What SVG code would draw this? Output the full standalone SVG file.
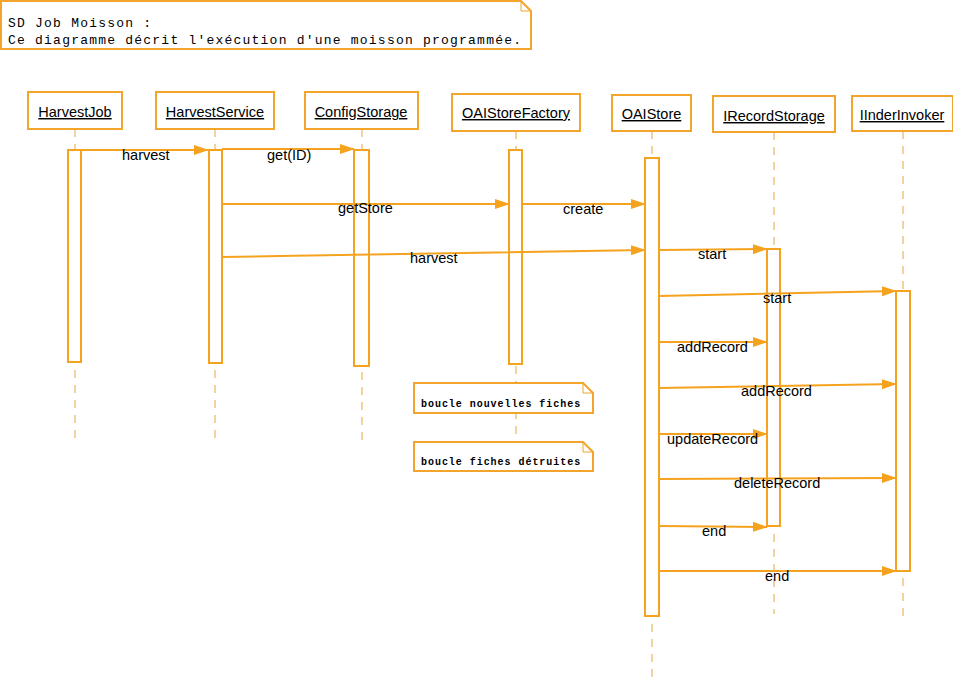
<svg xmlns="http://www.w3.org/2000/svg" width="953" height="680" viewBox="0 0 953 680">
<defs>
<marker id="ah" markerWidth="15" markerHeight="11" refX="14" refY="5.5" orient="auto" markerUnits="userSpaceOnUse">
<path d="M0,0.5 L15,5.5 L0,10.5 Z" fill="#F5A31F"/>
</marker>
<style>
.box{fill:#fff;stroke:#F2A52A;stroke-width:2}
.act{fill:#fff;stroke:#F5A31F;stroke-width:2}
.life{stroke:#E3A545;stroke-width:1;stroke-dasharray:8,7;fill:none}
.msg{stroke:#F5A31F;stroke-width:2;fill:none;marker-end:url(#ah)}
.name{font-family:"Liberation Sans",Arial,sans-serif;font-size:14.5px;fill:#000;text-anchor:middle;text-decoration:underline}
.lbl{font-family:"Liberation Sans",Arial,sans-serif;font-size:14.5px;fill:#000}
.note{fill:#fff;stroke:#F2A52A;stroke-width:2}
.mono{font-family:"Liberation Mono","Courier New",monospace;fill:#000}
</style>
</defs>
<rect width="953" height="680" fill="#fff"/>

<g id="title-note">
<path class="note" d="M1,1 H521 L531,11 V49 H1 Z"/>
<path d="M521,1 V11 H531" fill="none" stroke="#F2A52A" stroke-width="1"/>
<text class="mono" x="8" y="27" font-size="13" letter-spacing="1.22">SD Job Moisson :</text>
<text class="mono" x="8" y="44" font-size="13" letter-spacing="1.22">Ce diagramme décrit l'exécution d'une moisson programmée.</text>
</g>

<g id="HarvestJob">
<line class="life" x1="75" y1="129" x2="75" y2="150"/>
<line class="life" x1="75" y1="370" x2="75" y2="445"/>
<rect class="box" x="28" y="92" width="94" height="37"/>
<text class="name" x="75" y="117">HarvestJob</text>
<rect class="act" x="68" y="150" width="13" height="212"/>
</g>

<g id="HarvestService">
<line class="life" x1="215" y1="129" x2="215" y2="150"/>
<line class="life" x1="215" y1="370" x2="215" y2="445"/>
<rect class="box" x="156" y="92" width="118" height="37"/>
<text class="name" x="215" y="117">HarvestService</text>
<rect class="act" x="209" y="150" width="13" height="213"/>
</g>

<g id="ConfigStorage">
<line class="life" x1="362" y1="129" x2="362" y2="150"/>
<line class="life" x1="362" y1="372" x2="362" y2="440"/>
<rect class="box" x="305" y="92" width="113" height="37"/>
<text class="name" x="361" y="117">ConfigStorage</text>
<rect class="act" x="354" y="150" width="15" height="216"/>
</g>

<g id="OAIStoreFactory">
<line class="life" x1="516" y1="131" x2="516" y2="150"/>
<line class="life" x1="516" y1="366" x2="516" y2="442"/>
<rect class="box" x="452" y="94" width="128" height="37"/>
<text class="name" x="516" y="118">OAIStoreFactory</text>
<rect class="act" x="509" y="150" width="13" height="214"/>
</g>

<g id="OAIStore">
<line class="life" x1="652" y1="131" x2="652" y2="158"/>
<line class="life" x1="652" y1="624" x2="652" y2="680"/>
<rect class="box" x="612" y="95" width="79" height="36"/>
<text class="name" x="651.5" y="119">OAIStore</text>
<rect class="act" x="645" y="158" width="14" height="458"/>
</g>

<g id="IRecordStorage">
<line class="life" x1="774" y1="132" x2="774" y2="249"/>
<line class="life" x1="774" y1="534" x2="774" y2="614"/>
<rect class="box" x="713" y="96" width="122" height="36"/>
<text class="name" x="774" y="121">IRecordStorage</text>
<rect class="act" x="767" y="249" width="13" height="277"/>
</g>

<g id="IInderInvoker">
<line class="life" x1="903" y1="131" x2="903" y2="291"/>
<line class="life" x1="903" y1="578" x2="903" y2="620"/>
<rect class="box" x="852" y="96" width="101" height="35"/>
<text class="name" x="902" y="120">IInderInvoker</text>
<rect class="act" x="896" y="291" width="14" height="280"/>
</g>

<g id="note-nouvelles">
<path class="note" d="M414,383 H583 L593,393 V413 H414 Z"/>
<path d="M583,383 V393 H593" fill="none" stroke="#F2A52A" stroke-width="1"/>
<text class="mono" x="421" y="407" font-size="10" font-weight="bold" letter-spacing="0.96">boucle nouvelles fiches</text>
</g>

<g id="note-detruites">
<path class="note" d="M414,442 H583 L593,452 V471 H414 Z"/>
<path d="M583,442 V452 H593" fill="none" stroke="#F2A52A" stroke-width="1"/>
<text class="mono" x="421" y="465" font-size="10" font-weight="bold" letter-spacing="0.96">boucle fiches détruites</text>
</g>

<g id="connectors">
<line class="msg" x1="81" y1="150" x2="208" y2="150"/>
<line class="msg" x1="222" y1="149" x2="354" y2="149"/>
<line class="msg" x1="222" y1="204" x2="509" y2="204"/>
<line class="msg" x1="522" y1="204" x2="645" y2="204"/>
<path class="msg" d="M222,257 L280,256 L645,250"/>
<line class="msg" x1="659" y1="250" x2="767" y2="249"/>
<line class="msg" x1="659" y1="296" x2="896" y2="291"/>
<line class="msg" x1="659" y1="342" x2="767" y2="342"/>
<line class="msg" x1="659" y1="388" x2="896" y2="384"/>
<line class="msg" x1="659" y1="434" x2="767" y2="434"/>
<line class="msg" x1="659" y1="479" x2="896" y2="478"/>
<line class="msg" x1="659" y1="526" x2="767" y2="527"/>
<line class="msg" x1="659" y1="571" x2="896" y2="571"/>
</g>

<g id="labels">
<text class="lbl" x="122" y="160">harvest</text>
<text class="lbl" x="267" y="160">get(ID)</text>
<text class="lbl" x="338" y="213">getStore</text>
<text class="lbl" x="563" y="214">create</text>
<text class="lbl" x="410" y="263">harvest</text>
<text class="lbl" x="698" y="259">start</text>
<text class="lbl" x="763" y="303">start</text>
<text class="lbl" x="677" y="352">addRecord</text>
<text class="lbl" x="741" y="396">addRecord</text>
<text class="lbl" x="667" y="444">updateRecord</text>
<text class="lbl" x="734" y="488">deleteRecord</text>
<text class="lbl" x="702" y="536">end</text>
<text class="lbl" x="765" y="581">end</text>
</g>
</svg>
